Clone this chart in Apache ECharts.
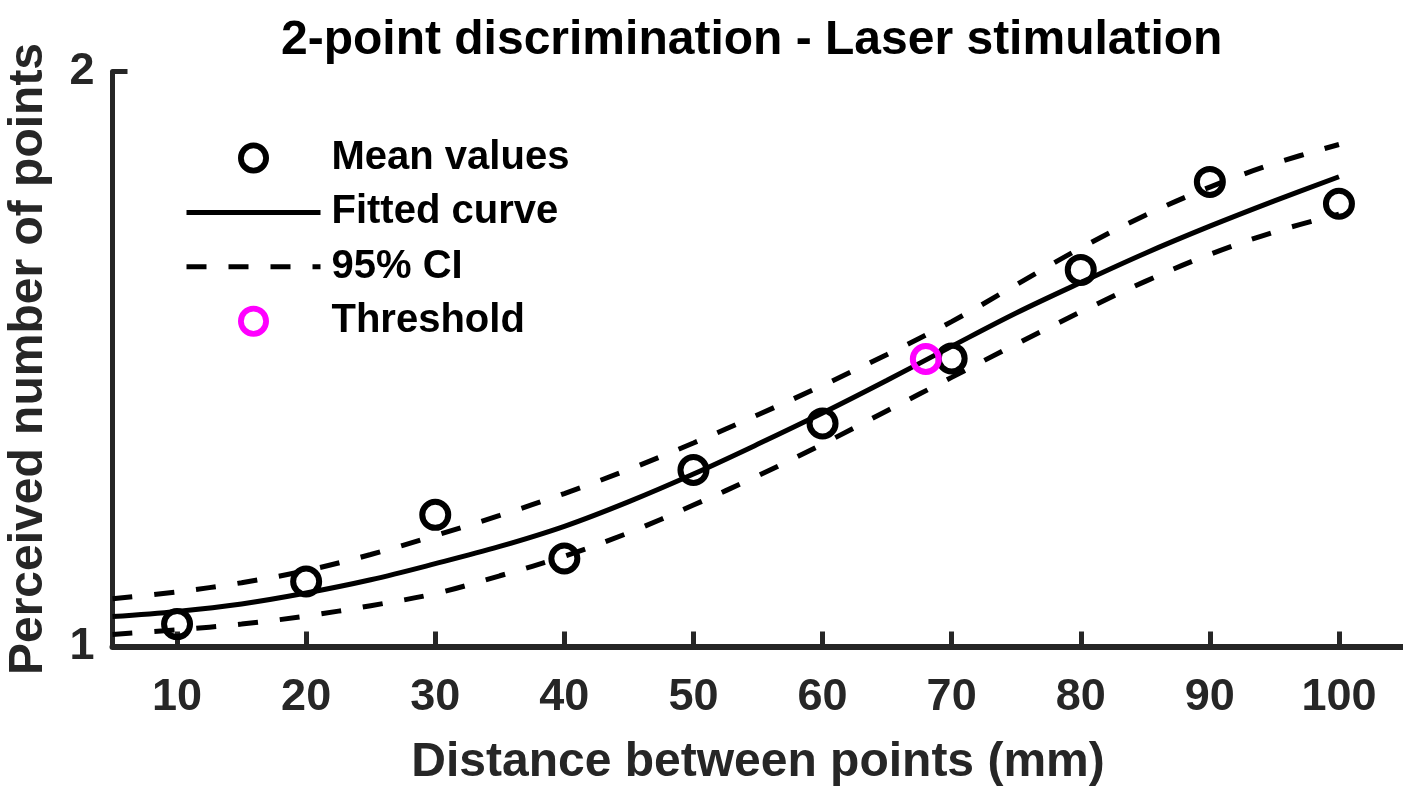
<!DOCTYPE html>
<html>
<head>
<meta charset="utf-8">
<script src="https://cdn.jsdelivr.net/npm/echarts@6/dist/echarts.min.js"></script>
<style>
  html, body { margin: 0; padding: 0; background: #fff; }
  #chart { width: 1403px; height: 792px; }
</style>
</head>
<body>
<div id="chart"></div>
<script>
// Stimulus distances (mm) and mean perceived number of points
const distances = [10, 20, 30, 40, 50, 60, 70, 80, 90, 100];
const meanValues = [1.039, 1.113, 1.229, 1.153, 1.307, 1.388, 1.501, 1.655, 1.808, 1.770];

// Fitted psychometric curve and its 95% confidence band
const curveX = [5, 10, 15, 20, 25, 30, 35, 40, 45, 50, 55, 60, 65, 70, 75, 80, 85, 90, 95, 100];
const fittedCurve = [1.052, 1.061, 1.074, 1.093, 1.116, 1.144, 1.174, 1.209, 1.252, 1.300,
                     1.352, 1.406, 1.463, 1.522, 1.580, 1.633, 1.684, 1.731, 1.775, 1.817];
const ciUpper = [1.083, 1.095, 1.111, 1.132, 1.160, 1.193, 1.228, 1.266, 1.308, 1.354,
                 1.403, 1.454, 1.508, 1.565, 1.629, 1.693, 1.750, 1.799, 1.840, 1.873];
const ciLower = [1.021, 1.029, 1.039, 1.053, 1.071, 1.092, 1.123, 1.157, 1.198, 1.246,
                 1.297, 1.352, 1.410, 1.468, 1.526, 1.582, 1.635, 1.682, 1.721, 1.752];

// Discrimination threshold (distance, perceived points)
const thresholdPoint = [68, 1.5];

const xTicks = [10, 20, 30, 40, 50, 60, 70, 80, 90, 100];

const axisColor = '#262626';
const fontFamily = '"Liberation Sans", Arial, sans-serif';

// Open ring marker (outer circle with a hole), so lines stay visible through it
const ringSymbol = 'path://M16,0A16,16,0,1,1,16,32A16,16,0,1,1,16,0Z' +
                   'M16,6A10,10,0,1,0,16,26A10,10,0,1,0,16,6Z';

const pair = (xs, ys) => xs.map((x, i) => [x, ys[i]]);

const hiddenLegendSymbol = { color: 'rgba(0,0,0,0)', borderWidth: 0, opacity: 0 };

const chart = echarts.init(document.getElementById('chart'));

chart.setOption({
  animation: false,
  backgroundColor: '#fff',
  title: {
    text: '2-point discrimination - Laser stimulation',
    left: 281,
    top: 17,
    padding: 0,
    textStyle: { fontFamily, fontSize: 48, fontWeight: 'bold', color: '#000' }
  },
  grid: {
    left: 112.5,
    top: 71.5,
    width: 1291,
    height: 575,
    containLabel: false,
    outerBoundsMode: 'none'
  },
  legend: {
    orient: 'vertical',
    left: 184,
    top: 138,
    itemWidth: 134,
    itemHeight: 31,
    itemGap: 14.4,
    padding: 0,
    data: [
      { name: 'Mean values' },
      { name: 'Fitted curve', itemStyle: hiddenLegendSymbol, lineStyle: { width: 5, color: '#000' } },
      { name: '95% CI', itemStyle: hiddenLegendSymbol, lineStyle: { width: 5, color: '#000', type: [20, 22] } },
      { name: 'Threshold' }
    ],
    textStyle: {
      fontFamily, fontSize: 40, fontWeight: 'bold', color: '#000',
      padding: [0, 0, 0, 6]
    }
  },
  xAxis: {
    type: 'value',
    min: 5,
    max: 105,
    name: 'Distance between points (mm)',
    nameLocation: 'middle',
    nameGap: 92,
    nameTextStyle: { fontFamily, fontSize: 48, fontWeight: 'bold', color: axisColor },
    axisLine: { onZero: false, lineStyle: { color: axisColor, width: 6 } },
    axisTick: { inside: true, length: 15, lineStyle: { color: axisColor, width: 5 }, customValues: xTicks },
    axisLabel: {
      customValues: xTicks,
      margin: 29,
      fontFamily, fontSize: 45, fontWeight: 'bold', color: axisColor
    },
    splitLine: { show: false }
  },
  yAxis: {
    type: 'value',
    min: 1,
    max: 2,
    interval: 1,
    name: 'Perceived number of points',
    nameLocation: 'middle',
    nameGap: 60,
    nameTextStyle: { fontFamily, fontSize: 48, fontWeight: 'bold', color: axisColor },
    axisLine: { onZero: false, lineStyle: { color: axisColor, width: 5 } },
    axisTick: { inside: true, length: 15, lineStyle: { color: axisColor, width: 5 } },
    axisLabel: { margin: 18, fontFamily, fontSize: 45, fontWeight: 'bold', color: axisColor },
    splitLine: { show: false }
  },
  series: [
    {
      name: '95% CI',
      type: 'line',
      data: pair(curveX, ciUpper),
      smooth: 0.35,
      symbol: 'none',
      lineStyle: { color: '#000', width: 5, type: [20, 22] },
      itemStyle: { color: '#000' },
      z: 2
    },
    {
      name: '95% CI',
      type: 'line',
      data: pair(curveX, ciLower),
      smooth: 0.35,
      symbol: 'none',
      lineStyle: { color: '#000', width: 5, type: [20, 22] },
      itemStyle: { color: '#000' },
      z: 2
    },
    {
      name: 'Fitted curve',
      type: 'line',
      data: pair(curveX, fittedCurve),
      smooth: 0.35,
      symbol: 'none',
      lineStyle: { color: '#000', width: 5 },
      itemStyle: { color: '#000' },
      z: 3
    },
    {
      name: 'Mean values',
      type: 'scatter',
      data: pair(distances, meanValues),
      symbol: ringSymbol,
      symbolSize: 32,
      itemStyle: { color: '#000', opacity: 1 },
      z: 4
    },
    {
      name: 'Threshold',
      type: 'scatter',
      data: [thresholdPoint],
      symbol: ringSymbol,
      symbolSize: 32,
      itemStyle: { color: '#ff00ff', opacity: 1 },
      z: 5
    }
  ]
});
</script>
</body>
</html>
